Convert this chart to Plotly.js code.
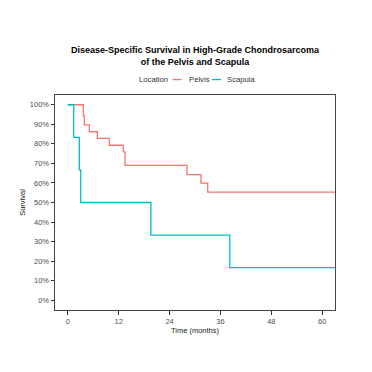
<!DOCTYPE html>
<html>
<head>
<meta charset="utf-8">
<script src="https://cdn.plot.ly/plotly-3.0.1.min.js"></script>
<style>html,body{margin:0;padding:0;background:#fff}#chart{width:372px;height:372px}</style>
</head>
<body>
<div id="chart"></div>
<script>
// Kaplan-Meier step data
const seriesNames = ["Pelvis", "Scapula"];
const seriesColors = ["#F8766D", "#00BFC4"];
const pelvisTime = [0, 3.68, 3.91, 5.09, 6.98, 9.8, 13.1, 13.5, 28.1, 31.4, 33.0, 63];
const pelvisSurv = [1.0, 0.945, 0.897, 0.862, 0.828, 0.793, 0.759, 0.690, 0.643, 0.599, 0.553, 0.553];
const scapulaTime = [0, 1.41, 2.73, 3.06, 19.6, 38.2, 63];
const scapulaSurv = [1.0, 0.833, 0.667, 0.5, 0.333, 0.167, 0.167];
const xTicks = [0, 12, 24, 36, 48, 60];
const yTicks = [0, 0.1, 0.2, 0.3, 0.4, 0.5, 0.6, 0.7, 0.8, 0.9, 1.0];
const yTickText = ["0%", "10%", "20%", "30%", "40%", "50%", "60%", "70%", "80%", "90%", "100%"];

const FONT = "Liberation Sans, Arial, sans-serif";
const W = 372, H = 372;
const M = {l: 55, r: 37, t: 94.5, b: 61.5};
const PW = W - M.l - M.r, PH = H - M.t - M.b;
const px2x = p => (p - M.l) / PW;
const py2y = p => (H - M.b - p) / PH;

const traces = [
  {x: pelvisTime, y: pelvisSurv, name: seriesNames[0], mode: "lines",
   line: {shape: "hv", color: seriesColors[0], width: 1.3}},
  {x: scapulaTime, y: scapulaSurv, name: seriesNames[1], mode: "lines",
   line: {shape: "hv", color: seriesColors[1], width: 1.3}}
];

// custom ggplot-style legend (compact keys)
const legY = py2y(79);
const legFont = {family: FONT, size: 7.7, color: "#333"};
const keyStarts = [172.7, 212];
const keyLen = 9;
const labelStarts = [186.7, 225];
const annotations = [
  {text: "Location", x: px2x(136.7), y: legY, xref: "paper", yref: "paper",
   xanchor: "left", yanchor: "middle", showarrow: false, font: legFont}
];
const shapes = [];
seriesNames.forEach((n, i) => {
  shapes.push({type: "line", xref: "paper", yref: "paper",
    x0: px2x(keyStarts[i]), x1: px2x(keyStarts[i] + keyLen), y0: legY, y1: legY,
    line: {color: seriesColors[i], width: 1.3}});
  annotations.push({text: n, x: px2x(labelStarts[i]), y: legY, xref: "paper", yref: "paper",
    xanchor: "left", yanchor: "middle", showarrow: false, font: legFont});
});

const layout = {
  width: W, height: H,
  margin: M,
  paper_bgcolor: "#fff", plot_bgcolor: "#fff",
  font: {family: FONT, size: 7.5, color: "#4D4D4D"},
  title: {text: "<b>Disease-Specific Survival in High-Grade Chondrosarcoma<br>of the Pelvis and Scapula</b>",
          font: {family: FONT, size: 9, color: "#000"},
          x: 0.5, xref: "paper", xanchor: "center", y: 0.857, yref: "container", yanchor: "middle"},
  showlegend: false,
  annotations: annotations,
  shapes: shapes,
  xaxis: {range: [-3, 63], tickvals: xTicks, ticktext: xTicks.map(String),
          showgrid: false, zeroline: false, ticks: "outside", ticklen: 3.5, tickcolor: "#333", tickwidth: 1,
          showline: true, linecolor: "#444", linewidth: 1, mirror: true,
          tickfont: {family: FONT, size: 7.5, color: "#4D4D4D"},
          title: {text: "Time (months)", font: {family: FONT, size: 7.5, color: "#222"}, standoff: 3}},
  yaxis: {range: [-0.05, 1.05], tickvals: yTicks, ticktext: yTickText,
          showgrid: false, zeroline: false, ticks: "outside", ticklen: 3.5, tickcolor: "#333", tickwidth: 1,
          showline: true, linecolor: "#444", linewidth: 1, mirror: true,
          tickfont: {family: FONT, size: 7.5, color: "#4D4D4D"},
          title: {text: "Survival", font: {family: FONT, size: 7.5, color: "#222"}, standoff: 3}}
};
Plotly.newPlot("chart", traces, layout, {displayModeBar: false, staticPlot: true});
</script>
</body>
</html>
